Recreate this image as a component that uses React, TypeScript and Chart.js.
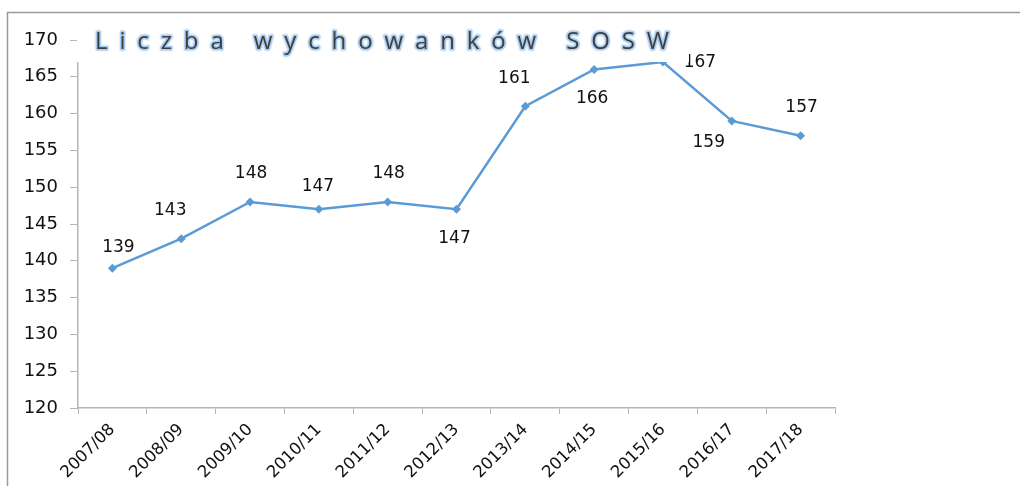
import React, { useEffect, useRef } from "react";
import { Chart, registerables } from "chart.js";

Chart.register(...registerables);

const categories = [
  "2007/08", "2008/09", "2009/10", "2010/11", "2011/12", "2012/13",
  "2013/14", "2014/15", "2015/16", "2016/17", "2017/18",
];
const pupils = [139, 143, 148, 147, 148, 147, 161, 166, 167, 159, 157];
const labelPlacement = [
  "aboveRight", "aboveLeft", "above", "aboveNear", "above", "below",
  "aboveLeft", "below", "right", "belowLeft", "above",
];
const titleText = "Liczba wychowanków SOSW";
const yMin = 120;
const yMax = 170;
const yStep = 5;

const placementOffsets: Record<string, [number, number]> = {
  above: [1, -28],
  aboveNear: [-1, -23],
  aboveRight: [6, -21],
  aboveLeft: [-11, -28],
  below: [-2, 29],
  right: [37, 0],
  belowLeft: [-23, 22],
};

const FONT = "'DejaVu Sans', 'Open Sans', sans-serif";
const TITLE_FONT = "'Open Sans', 'DejaVu Sans', sans-serif";

const decorPlugin = {
  id: "decor",
  beforeDraw(chart: any) {
    const ctx = chart.ctx;
    ctx.save();
    ctx.fillStyle = "#ffffff";
    ctx.fillRect(0, 0, chart.width, chart.height);
    ctx.strokeStyle = "#9a9a9a";
    ctx.lineWidth = 1.5;
    ctx.beginPath();
    ctx.moveTo(7.5, chart.height);
    ctx.lineTo(7.5, 12.5);
    ctx.lineTo(chart.width, 12.5);
    ctx.stroke();
    ctx.restore();
  },
  afterDatasetsDraw(chart: any) {
    const ctx = chart.ctx;
    const meta = chart.getDatasetMeta(0);
    ctx.save();
    ctx.font = `17px ${FONT}`;
    ctx.fillStyle = "#111111";
    ctx.textAlign = "center";
    ctx.textBaseline = "middle";
    meta.data.forEach((pt: any, i: number) => {
      const off = placementOffsets[labelPlacement[i]] || [0, -27];
      ctx.fillText(String(pupils[i]), pt.x + off[0], pt.y + off[1]);
    });
    ctx.restore();
  },
  afterDraw(chart: any) {
    const ctx = chart.ctx;
    ctx.save();
    // title box (covers the top of the axis as in the original)
    ctx.fillStyle = "#ffffff";
    ctx.fillRect(77, 20, 612, 42);
    ctx.font = `24px ${TITLE_FONT}`;
    ctx.textBaseline = "alphabetic";
    ctx.textAlign = "left";
    const startX = 95;
    const endX = 669;
    const chars = Array.from(titleText);
    const widths = chars.map((c) => ctx.measureText(c).width);
    const total = widths.reduce((a, b) => a + b, 0);
    const gap = (endX - startX - total) / (chars.length - 1);
    let x = startX;
    const baseY = 49;
    chars.forEach((c, i) => {
      ctx.lineJoin = "round";
      ctx.strokeStyle = "#e2eefa";
      ctx.lineWidth = 5;
      ctx.strokeText(c, x, baseY);
      ctx.strokeStyle = "#a9cdf0";
      ctx.lineWidth = 3;
      ctx.strokeText(c, x, baseY);
      ctx.fillStyle = "#3f3f3f";
      ctx.fillText(c, x, baseY);
      x += widths[i] + gap;
    });
    ctx.restore();
  },
};

export default function App() {
  const ref = useRef<HTMLCanvasElement | null>(null);
  useEffect(() => {
    if (!ref.current) return;
    const chart = new Chart(ref.current, {
      type: "line",
      data: {
        labels: categories,
        datasets: [
          {
            data: pupils,
            borderColor: "#5b9bd5",
            backgroundColor: "#5b9bd5",
            borderWidth: 2.5,
            pointStyle: "rectRot",
            pointRadius: 4.5,
            pointBorderWidth: 0,
            tension: 0,
          },
        ],
      },
      options: {
        animation: false,
        responsive: false,
        maintainAspectRatio: false,
        layout: { padding: { left: 0, top: 40, right: 185, bottom: 0 } },
        plugins: {
          legend: { display: false },
          tooltip: { enabled: false },
          title: { display: false },
        },
        scales: {
          x: {
            offset: true,
            grid: {
              offset: true,
              drawOnChartArea: false,
              drawTicks: true,
              tickLength: 6,
              color: "#b5b5b5",
            },
            border: { color: "#b5b5b5", width: 1.5 },
            ticks: {
              minRotation: 45,
              maxRotation: 45,
              autoSkip: false,
              color: "#111111",
              font: { family: FONT, size: 16.5 },
              padding: 6,
            },
            afterFit(scale: any) {
              scale.height = 78;
            },
          },
          y: {
            min: yMin,
            max: yMax,
            grid: {
              drawOnChartArea: false,
              drawTicks: true,
              tickLength: 8,
              color: "#b5b5b5",
            },
            border: { color: "#b5b5b5", width: 1.5 },
            ticks: {
              stepSize: yStep,
              color: "#111111",
              font: { family: FONT, size: 18 },
              padding: 12,
            },
            afterFit(scale: any) {
              scale.width = 78;
            },
          },
        },
      },
      plugins: [decorPlugin],
    });
    return () => chart.destroy();
  }, []);
  return (
    <div style={{ position: "fixed", left: 0, top: 0, width: 1020, height: 486 }}>
      <canvas ref={ref} width={1020} height={486} style={{ display: "block" }} />
    </div>
  );
}
